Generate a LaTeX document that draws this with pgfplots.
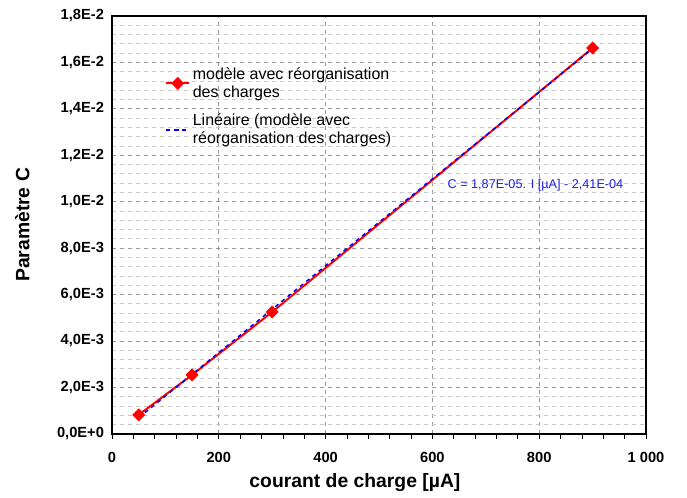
\documentclass[border=0pt]{standalone}
\usepackage{pgfplots}
\pgfplotsset{compat=1.18}
\usepackage{fontspec}
\setmainfont{Liberation Sans}
\definecolor{gridmaj}{RGB}{150,150,150}
\definecolor{gridmin}{RGB}{200,200,200}
\definecolor{eqblue}{RGB}{30,30,230}
\begin{document}
\begin{tikzpicture}
\begin{axis}[
    scale only axis,
    width=400.5pt, height=313.5pt,
    xmin=0, xmax=1000,
    ymin=0, ymax=0.018,
    clip=false,
    axis line style={line width=1.1pt},
    xtick={0,200,400,600,800,1000},
    xticklabels={0,200,400,600,800,1 000},
    ytick={0,0.002,0.004,0.006,0.008,0.010,0.012,0.014,0.016,0.018},
    yticklabels={{0,0E+0},{2,0E-3},{4,0E-3},{6,0E-3},{8,0E-3},{1,0E-2},{1,2E-2},{1,4E-2},{1,6E-2},{1,8E-2}},
    scaled y ticks=false,
    minor x tick num=4,
    minor y tick num=4,
    xtick pos=bottom, xtick align=outside,
    y tick style={draw=none},
    minor y tick style={draw=none},
    x tick style={black, line width=0.5pt},
    minor x tick style={black, line width=0.5pt},
    major tick length=4pt, minor tick length=4pt,
    xmajorgrids, ymajorgrids, yminorgrids,
    major grid style={gridmaj, dashed, line width=0.6pt},
    minor grid style={gridmin, dashed, line width=0.6pt},
    tick label style={font=\bfseries\fontsize{11}{12}\selectfont},
    xticklabel style={yshift=-6pt},
    yticklabel style={xshift=-2.5pt},
    xlabel={\bfseries courant de charge [µA]},
    ylabel={\bfseries Paramètre C},
    label style={font=\fontsize{14.5}{16}\selectfont},
    xlabel style={at={(rel axis cs:0.455,-0.117)}, anchor=center},
    ylabel style={at={(rel axis cs:-0.168,0.5)}, anchor=center},
    legend cell align=left,
    legend style={draw=none, fill=none, at={(rel axis cs:0.092,0.89)}, anchor=north west,
        font=\fontsize{12}{13.5}\selectfont, nodes={align=left}, row sep=7pt},
]
\addplot[color=red, line width=1.5pt, mark=square*, mark size=2.7pt, mark options={solid, rotate=45}]
    coordinates {(50,0.00082)(150,0.00254)(300,0.00525)(900,0.01662)};
\addlegendentry{modèle avec réorganisation\\des charges}
\addplot[color=blue, dashed, line width=1.1pt]
    coordinates {(50,0.000694)(900,0.016589)};
\addlegendentry{Linéaire (modèle avec\\réorganisation des charges)}
\node[text=eqblue, font=\fontsize{9.5}{11}\selectfont] at (axis cs:793,0.01072) {C = 1,87E-05. I [µA] - 2,41E-04};
\path (rel axis cs:-0.2097,-0.153) rectangle (rel axis cs:1.0768,1.038);
\end{axis}
\end{tikzpicture}
\end{document}
